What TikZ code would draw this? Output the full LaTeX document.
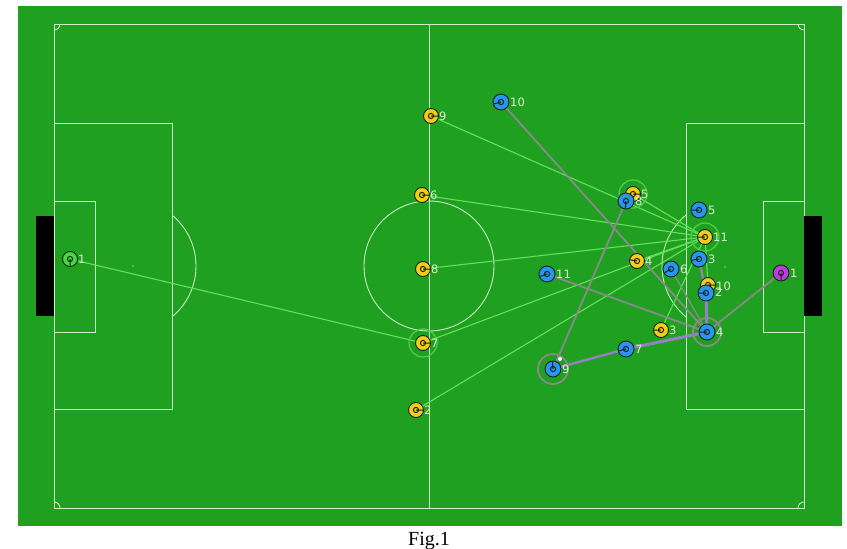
\documentclass[tikz,border=0pt]{standalone}
\usepackage{fontspec}
\setmainfont{Liberation Serif}
\newfontfamily\labfont{DejaVu Sans}
\pgfdeclarelayer{field}
\pgfdeclarelayer{links}
\pgfsetlayers{field,links,main}
\definecolor{grass}{RGB}{32,160,32}
\definecolor{fline}{RGB}{200,240,195}
\definecolor{yel}{RGB}{245,205,20}
\definecolor{blu}{RGB}{40,150,240}
\definecolor{pur}{RGB}{190,60,220}
\definecolor{gk}{RGB}{70,220,60}
\definecolor{dk}{RGB}{20,35,30}
\definecolor{labc}{RGB}{215,240,210}
\definecolor{passc}{RGB}{100,225,90}
\definecolor{markc}{RGB}{138,138,140}
\definecolor{markp}{RGB}{150,128,195}
\definecolor{ringg}{RGB}{75,205,70}
\newcommand\plorient[2]{\draw[dk,line width=1pt] (#1.center) circle (2.6pt) -- +(#2:7pt);}
\begin{document}
\begin{tikzpicture}[x=1pt,y=-1pt,
  pl/.style={circle, draw=dk, line width=0.9pt, inner sep=0pt, minimum size=15pt},
  yp/.style={pl, fill=yel},
  bp/.style={pl, fill=blu, minimum size=16pt},
  lab/.style={text=labc, font=\labfont\fontsize{11.5}{12}\selectfont, anchor=west, inner sep=0pt},
  fl/.style={draw=fline, line width=0.9pt},
  pass/.style={draw=passc, line width=1.1pt},
  markline/.style={draw=markc, line width=1.8pt},
  markthick/.style={draw=markp, line width=3pt},
  ringgreen/.style={draw=ringg, line width=1.3pt},
  ringgrey/.style={draw=markc, line width=1.8pt},
  fdot/.style={circle, fill=fline!60!grass, inner sep=0pt, minimum size=1.6pt}
]
\useasboundingbox (0,0) rectangle (847,549);
\begin{pgfonlayer}{field}
\fill[grass] (18,6) rectangle (842,526);
\draw[fl] (54,24) rectangle (804,508);
\draw[fl] (429,24) -- (429,508);
\draw[fl] (429,266) circle (65pt);
\draw[fl] (54,123) rectangle (172,409);
\draw[fl] (686,123) rectangle (804,409);
\draw[fl] (54,201) rectangle (95,332);
\draw[fl] (763,201) rectangle (804,332);
\fill[black] (36,216) rectangle (54,316);
\fill[black] (804,216) rectangle (822,316);
\begin{scope}
\clip (172,24) rectangle (686,508);
\draw[fl] (130,266) circle (66pt);
\draw[fl] (728,266) circle (66pt);
\end{scope}
\begin{scope}
\clip (54,24) rectangle (804,508);
\draw[fl] (54,24) circle (6pt);
\draw[fl] (804,24) circle (6pt);
\draw[fl] (54,508) circle (6pt);
\draw[fl] (804,508) circle (6pt);
\end{scope}
\end{pgfonlayer}

% small marks
\node[fdot] (dot1) at (133,266) {};
\node[fdot] (dot2) at (725,267) {};

% own team (yellow)
\node[pl, fill=gk] (g1) at (70,259) {};
\node[yp] (y9) at (431,116) {};
\node[yp] (y6) at (422,195) {};
\node[yp] (y8) at (423,269) {};
\node[yp] (y7) at (423,343) {};
\node[yp] (y2) at (416,410) {};
\node[yp] (y5) at (633,194) {};
\node[yp] (y11) at (705,237) {};
\node[yp] (y4) at (637,261) {};
\node[yp] (y10) at (708,285) {};
\node[yp] (y3) at (661,330) {};
\plorient{g1}{-90}
\plorient{y9}{0}
\plorient{y6}{0}
\plorient{y8}{0}
\plorient{y7}{0}
\plorient{y2}{0}
\plorient{y5}{0}
\plorient{y11}{180}
\plorient{y4}{170}
\plorient{y10}{0}
\plorient{y3}{180}

% opponents (blue)
\node[bp] (b10) at (501,102) {};
\node[bp] (b8) at (626,201) {};
\node[bp] (b5) at (699,210) {};
\node[bp] (b3) at (699,259) {};
\node[bp] (b6) at (671,269) {};
\node[bp] (b2) at (706,293) {};
\node[bp] (b4) at (707,332) {};
\node[bp] (b11) at (547,274) {};
\node[bp] (b7) at (626,349) {};
\node[bp] (b9) at (553,369) {};
\node[bp, fill=pur] (p1) at (781,273) {};
\plorient{b10}{195}
\plorient{b8}{-95}
\plorient{b5}{180}
\plorient{b3}{190}
\plorient{b6}{210}
\plorient{b2}{180}
\plorient{b4}{180}
\plorient{b11}{200}
\plorient{b7}{195}
\plorient{b9}{95}
\plorient{p1}{-90}

\node[circle, fill=white, inner sep=0pt, minimum size=4pt] (ball) at (560,359) {};

% labels
\node[lab] (lg1) at ([xshift=8pt]g1.center) {1};
\node[lab] (ly9) at ([xshift=8pt]y9.center) {9};
\node[lab] (ly6) at ([xshift=8pt]y6.center) {6};
\node[lab] (ly8) at ([xshift=8pt]y8.center) {8};
\node[lab] (ly7) at ([xshift=8pt]y7.center) {7};
\node[lab] (ly2) at ([xshift=8pt]y2.center) {2};
\node[lab] (ly5) at ([xshift=8pt]y5.center) {5};
\node[lab] (ly11) at ([xshift=8pt]y11.center) {11};
\node[lab] (ly4) at ([xshift=8pt]y4.center) {4};
\node[lab] (ly10) at ([xshift=8pt,yshift=-1pt]y10.center) {10};
\node[lab] (ly3) at ([xshift=8pt]y3.center) {3};
\node[lab] (lb10) at ([xshift=9pt]b10.center) {10};
\node[lab] (lb8) at ([xshift=9pt]b8.center) {8};
\node[lab] (lb5) at ([xshift=9pt]b5.center) {5};
\node[lab] (lb3) at ([xshift=9pt]b3.center) {3};
\node[lab] (lb6) at ([xshift=9pt]b6.center) {6};
\node[lab] (lb2) at ([xshift=9pt,yshift=1pt]b2.center) {2};
\node[lab] (lb4) at ([xshift=9pt]b4.center) {4};
\node[lab] (lb11) at ([xshift=9pt]b11.center) {11};
\node[lab] (lb7) at ([xshift=9pt]b7.center) {7};
\node[lab] (lb9) at ([xshift=9pt]b9.center) {9};
\node[lab] (lp1) at ([xshift=9pt]p1.center) {1};

% connectors
\begin{pgfonlayer}{links}
\draw[pass] (g1.center) -- (y7.center);
\foreach \s in {y9,y6,y8,y7,y2,y5,y4,y3,y10}
  \draw[pass] (\s.center) -- (y11.center);
\draw[markline] (b10.center) -- (b4.center);
\draw[markline] (b11.center) -- (b4.center);
\draw[markline, line width=1.2pt] (b6.center) -- (b4.center);
\draw[markline] (p1.center) -- (b4.center);
\draw[markline] (b8.center) -- (b9.center);
\draw[markline, line width=2.6pt] (b3.center) -- (b2.center);
\draw[markthick] (b2.center) -- (b4.center);
\draw[markthick] (b7.center) -- (b4.center);
\draw[markthick, line width=2.4pt] (b9.center) -- (b7.center);
\draw[ringgreen] (y5.center) circle (14pt);
\draw[ringgreen] (y11.center) circle (14pt);
\draw[ringgreen] (y7.center) circle (14pt);
\draw[ringgrey] (b4.center) circle (14pt);
\draw[ringgrey] (b9.center) circle (15pt);
\end{pgfonlayer}

\node[anchor=base, font=\fontsize{20}{22}\selectfont, inner sep=0pt] (cap) at (429,545) {Fig.1};
\end{tikzpicture}
\end{document}
